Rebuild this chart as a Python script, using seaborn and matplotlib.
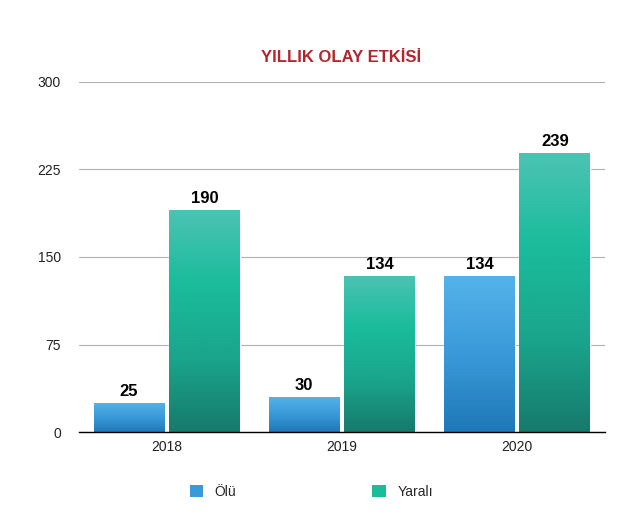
import numpy as np
import pandas as pd
import seaborn as sns
import matplotlib.pyplot as plt
from matplotlib.colors import LinearSegmentedColormap
from matplotlib.patches import Patch

# data
years = ['2018', '2019', '2020']
olu = [25, 30, 134]
yarali = [190, 134, 239]
series_names = ['Ölü', 'Yaralı']
y_ticks = [0, 75, 150, 225, 300]

df = pd.DataFrame({
    'year': years * 2,
    'value': olu + yarali,
    'series': [series_names[0]] * 3 + [series_names[1]] * 3,
})

sns.set_theme(style="white")
plt.rcParams['font.family'] = ['Liberation Sans', 'DejaVu Sans']

fig = plt.figure(figsize=(6.39, 5.14), dpi=100)
ax = fig.add_axes([0.1236, 0.1595, 0.823, 0.681])

palette = {'Ölü': '#3a9ad9', 'Yaralı': '#1abc9c'}
sns.barplot(data=df, x='year', y='value', hue='series', palette=palette,
            width=0.86, gap=0.06, ax=ax, legend=False)

# gradient fill for the bars
grads = {
    'Ölü': LinearSegmentedColormap.from_list('b', ['#1f78b8', '#3a9ad9', '#55b3ea']),
    'Yaralı': LinearSegmentedColormap.from_list('g', ['#177a6c', '#1aa58c', '#1abc9c', '#4cc3b3']),
}
for cont, name in zip(ax.containers, series_names):
    for bar in cont:
        x0, y0 = bar.get_x(), bar.get_y()
        w, h = bar.get_width(), bar.get_height()
        grad = np.linspace(0, 1, 256).reshape(-1, 1)
        im = ax.imshow(grad, cmap=grads[name], origin='lower', aspect='auto',
                       extent=[x0, x0 + w, y0, y0 + h], zorder=bar.get_zorder())
        im.set_clip_path(bar)
        bar.set_facecolor('none')
    ax.bar_label(cont, labels=[str(int(v)) for v in cont.datavalues], padding=3,
                 fontsize=12, fontweight='bold', color='black')

ax.set_xlim(-0.5, 2.5)
ax.set_ylim(0, 300)
ax.set_yticks(y_ticks)
ax.set_yticklabels([str(t) for t in y_ticks], fontsize=10, color='#222222')
ax.tick_params(axis='x', labelsize=10, colors='#222222', length=0, pad=6)
ax.tick_params(axis='y', length=0, pad=13)
ax.yaxis.grid(True, color='#b0b0b0', linewidth=0.8)
ax.set_axisbelow(True)
for s in ['top', 'right', 'left']:
    ax.spines[s].set_visible(False)
ax.spines['bottom'].set_color('black')
ax.spines['bottom'].set_linewidth(1)
ax.set_xlabel('')
ax.set_ylabel('')

fig.text(0.533, 0.889, 'YILLIK OLAY ETKİSİ', ha='center', va='center',
         fontsize=12, fontweight='bold', color='#b3262d')

handles = [Patch(facecolor=palette[n], edgecolor='none') for n in series_names]
fig.legend(handles, series_names, loc='center', bbox_to_anchor=(0.487, 0.043),
           ncol=2, frameon=False, fontsize=10, columnspacing=9.8,
           handlelength=1.0, handleheight=1.0, handletextpad=0.8)

fig.savefig('out.png', dpi=100)
